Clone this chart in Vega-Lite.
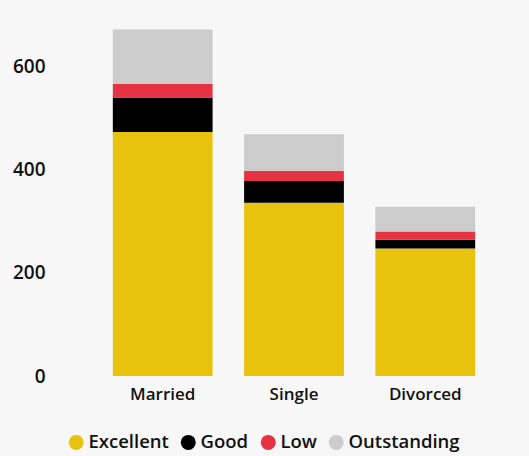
{
  "$schema": "https://vega.github.io/schema/vega-lite/v6.json",
  "autosize": "none",
  "width": 428,
  "height": 361,
  "padding": {"left": 80, "top": 15, "right": 21, "bottom": 80},
  "background": "#f7f7f7",
  "config": {
    "view": {"stroke": null},
    "font": "Open Sans"
  },
  "data": {
    "values": [
      {"status": "Married", "rating": "Excellent", "count": 473},
      {"status": "Married", "rating": "Good", "count": 67},
      {"status": "Married", "rating": "Low", "count": 26},
      {"status": "Married", "rating": "Outstanding", "count": 106},
      {"status": "Single", "rating": "Excellent", "count": 336},
      {"status": "Single", "rating": "Good", "count": 42},
      {"status": "Single", "rating": "Low", "count": 20},
      {"status": "Single", "rating": "Outstanding", "count": 71},
      {"status": "Divorced", "rating": "Excellent", "count": 247},
      {"status": "Divorced", "rating": "Good", "count": 17},
      {"status": "Divorced", "rating": "Low", "count": 16},
      {"status": "Divorced", "rating": "Outstanding", "count": 48}
    ]
  },
  "mark": {"type": "bar"},
  "encoding": {
    "x": {
      "field": "status",
      "type": "nominal",
      "sort": ["Married", "Single", "Divorced"],
      "scale": {"paddingInner": 0.24, "paddingOuter": 0.25},
      "axis": {
        "title": null,
        "labelAngle": 0,
        "domain": false,
        "ticks": false,
        "tickSize": 0,
        "labelPadding": 10,
        "labelFontSize": 17,
        "labelFontWeight": 600,
        "labelColor": "#111111"
      }
    },
    "y": {
      "field": "count",
      "type": "quantitative",
      "stack": "zero",
      "scale": {"domain": [0, 700], "nice": false},
      "axis": {
        "title": null,
        "values": [0, 200, 400, 600],
        "grid": false,
        "domain": false,
        "ticks": false,
        "tickSize": 0,
        "labelPadding": 35,
        "labelFontSize": 19,
        "labelFontWeight": 600,
        "labelColor": "#111111"
      }
    },
    "color": {
      "field": "rating",
      "type": "nominal",
      "scale": {
        "domain": ["Excellent", "Good", "Low", "Outstanding"],
        "range": ["#E8C30E", "#000000", "#E53343", "#CCCCCC"]
      },
      "legend": {
        "title": null,
        "orient": "none",
        "direction": "horizontal",
        "legendX": -13,
        "legendY": 418,
        "symbolType": "circle",
        "symbolSize": 225,
        "symbolStrokeWidth": 0,
        "labelFontSize": 18.5,
        "labelFontWeight": 600,
        "labelColor": "#111111",
        "labelOffset": 3,
        "columnPadding": 10
      }
    },
    "order": {"field": "rating", "sort": "ascending"}
  }
}
